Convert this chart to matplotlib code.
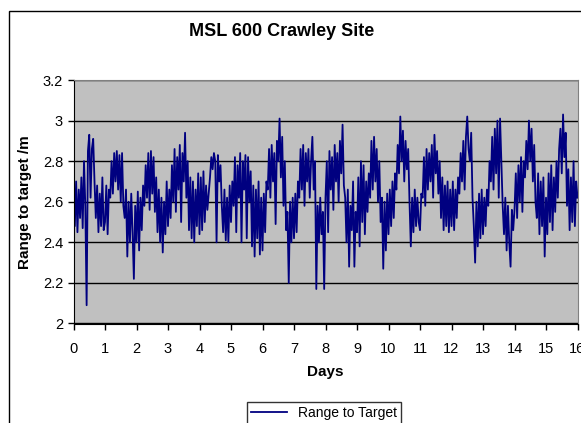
import numpy as np
import matplotlib
matplotlib.use("Agg")
import matplotlib.pyplot as plt
from matplotlib.patches import Rectangle

plt.rcParams['font.family'] = ['Liberation Sans', 'DejaVu Sans']

# range to target (m), roughly hourly readings, one row per day
day00 = [2.62, 2.48, 2.70, 2.45, 2.66, 2.52, 2.72, 2.47, 2.80, 2.58, 2.09, 2.85, 2.93, 2.62, 2.86, 2.91, 2.70, 2.52, 2.68, 2.45, 2.64, 2.48, 2.72, 2.46]
day01 = [2.50, 2.68, 2.44, 2.66, 2.62, 2.80, 2.64, 2.84, 2.70, 2.85, 2.66, 2.83, 2.60, 2.84, 2.58, 2.52, 2.66, 2.33, 2.60, 2.40, 2.64, 2.45, 2.22, 2.58]
day02 = [2.40, 2.65, 2.36, 2.62, 2.46, 2.68, 2.58, 2.78, 2.62, 2.84, 2.56, 2.85, 2.64, 2.82, 2.55, 2.72, 2.45, 2.66, 2.40, 2.62, 2.35, 2.60, 2.44, 2.70]
day03 = [2.48, 2.66, 2.52, 2.78, 2.60, 2.86, 2.55, 2.82, 2.66, 2.88, 2.50, 2.84, 2.70, 2.94, 2.62, 2.80, 2.46, 2.72, 2.42, 2.70, 2.40, 2.66, 2.48, 2.74]
day04 = [2.44, 2.72, 2.46, 2.75, 2.50, 2.68, 2.56, 2.64, 2.72, 2.82, 2.76, 2.84, 2.80, 2.40, 2.83, 2.70, 2.78, 2.58, 2.45, 2.66, 2.41, 2.62, 2.40, 2.68]
day05 = [2.50, 2.70, 2.58, 2.82, 2.45, 2.78, 2.62, 2.84, 2.40, 2.80, 2.66, 2.83, 2.42, 2.82, 2.60, 2.75, 2.38, 2.68, 2.33, 2.66, 2.42, 2.70, 2.34, 2.62]
day06 = [2.36, 2.64, 2.45, 2.70, 2.66, 2.86, 2.62, 2.88, 2.70, 2.84, 2.49, 2.90, 2.80, 3.01, 2.72, 2.92, 2.58, 2.80, 2.46, 2.55, 2.20, 2.60, 2.40, 2.62]
day07 = [2.42, 2.64, 2.45, 2.70, 2.62, 2.86, 2.66, 2.88, 2.58, 2.84, 2.70, 2.86, 2.62, 2.80, 2.92, 2.66, 2.80, 2.17, 2.58, 2.40, 2.62, 2.44, 2.55, 2.17]
day08 = [2.62, 2.80, 2.45, 2.85, 2.66, 2.82, 2.56, 2.88, 2.70, 2.84, 2.60, 2.90, 2.74, 2.98, 2.68, 2.62, 2.40, 2.66, 2.28, 2.58, 2.46, 2.70, 2.28, 2.55]
day09 = [2.45, 2.72, 2.38, 2.80, 2.50, 2.78, 2.44, 2.70, 2.55, 2.74, 2.62, 2.90, 2.66, 2.92, 2.70, 2.86, 2.60, 2.80, 2.50, 2.62, 2.27, 2.60, 2.36, 2.64]
day10 = [2.44, 2.66, 2.48, 2.70, 2.52, 2.74, 2.66, 2.88, 2.74, 3.02, 2.80, 2.95, 2.70, 2.90, 2.76, 2.86, 2.60, 2.38, 2.62, 2.45, 2.66, 2.48, 2.62, 2.50]
day11 = [2.46, 2.64, 2.62, 2.82, 2.58, 2.86, 2.66, 2.84, 2.70, 2.88, 2.62, 2.93, 2.74, 2.85, 2.64, 2.80, 2.52, 2.72, 2.46, 2.68, 2.48, 2.70, 2.45, 2.66]
day12 = [2.48, 2.70, 2.46, 2.66, 2.52, 2.72, 2.64, 2.84, 2.70, 2.90, 2.66, 2.92, 3.02, 2.86, 2.80, 2.94, 2.62, 2.48, 2.30, 2.60, 2.38, 2.64, 2.42, 2.66]
day13 = [2.44, 2.62, 2.48, 2.66, 2.58, 2.80, 2.70, 2.92, 2.66, 2.96, 2.74, 3.00, 2.62, 3.01, 2.80, 2.58, 2.44, 2.62, 2.36, 2.58, 2.40, 2.28, 2.56, 2.46]
day14 = [2.56, 2.74, 2.52, 2.78, 2.60, 2.82, 2.55, 2.80, 2.72, 2.90, 2.76, 3.00, 2.80, 2.96, 2.70, 2.88, 2.60, 2.52, 2.74, 2.44, 2.70, 2.48, 2.72, 2.33]
day15 = [2.62, 2.44, 2.74, 2.50, 2.78, 2.46, 2.72, 2.55, 2.80, 2.62, 2.86, 2.96, 2.74, 3.03, 2.82, 2.94, 2.58, 2.76, 2.46, 2.72, 2.50, 2.80, 2.48, 2.70, 2.62]

range_m = (day00 + day01 + day02 + day03 + day04 + day05 + day06 + day07 +
           day08 + day09 + day10 + day11 + day12 + day13 + day14 + day15)
days = np.arange(len(range_m)) / 24.0

x_ticks = list(range(0, 17))
y_ticks = [2.0, 2.2, 2.4, 2.6, 2.8, 3.0, 3.2]
y_labels = ['2', '2.2', '2.4', '2.6', '2.8', '3', '3.2']

fig = plt.figure(figsize=(5.81, 4.23), dpi=100)
W, H = 581, 423

# outer chart frame (runs off the right and bottom edges)
fig.patches.append(Rectangle((9 / W, -0.2), 1.2, 1 - 11 / H + 0.2,
                             transform=fig.transFigure, fill=False,
                             edgecolor='black', linewidth=1))

ax = fig.add_axes([73.5 / W, 1 - 323.5 / H, 504 / W, 243.5 / H])
ax.set_facecolor('#C0C0C0')
line, = ax.plot(days, range_m, color='#000080', linewidth=1.3, label='Range to Target')

ax.set_xlim(0, 16)
ax.set_ylim(2.0, 3.2)
ax.set_xticks(x_ticks)
ax.set_yticks(y_ticks)
ax.set_yticklabels(y_labels)
ax.tick_params(axis='both', direction='out', length=4, width=1, labelsize=10.5, colors='black')
ax.tick_params(axis='x', pad=9)
ax.yaxis.grid(True, color='black', linewidth=1)
ax.set_axisbelow(True)
for s in ['top', 'right']:
    ax.spines[s].set_color('#808080')
for s in ['left', 'bottom']:
    ax.spines[s].set_color('black')

fig.text(282 / W, 1 - 31 / H, 'MSL 600 Crawley Site', ha='center', va='center',
         fontsize=13, fontweight='bold')
ax.set_xlabel('Days', fontsize=11, fontweight='bold', labelpad=7)
ax.set_ylabel('Range to target /m', fontsize=11, fontweight='bold', labelpad=8)

leg = fig.legend(handles=[line], loc='upper center', bbox_to_anchor=(324 / W, 1 - 402 / H),
                 fontsize=10, frameon=True, fancybox=False, edgecolor='black',
                 handlelength=2.6, borderpad=0.3, borderaxespad=0)
leg.get_frame().set_linewidth(1)

fig.savefig('out.png', dpi=100)
